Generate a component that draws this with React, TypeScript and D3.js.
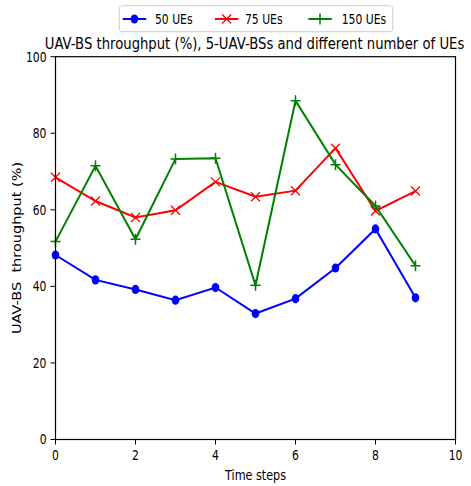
import React from "react";
import * as d3 from "d3";

const timeSteps = [0, 1, 2, 3, 4, 5, 6, 7, 8, 9];
const ue50 = [48.2, 41.7, 39.2, 36.4, 39.7, 32.9, 36.8, 44.8, 55.0, 37.0];
const ue75 = [68.5, 62.3, 58.0, 59.9, 67.3, 63.4, 65.0, 76.1, 59.7, 64.9];
const ue150 = [51.7, 71.5, 52.3, 73.3, 73.5, 40.3, 88.5, 71.8, 61.0, 45.4];
const xTicks = [0, 2, 4, 6, 8, 10];
const yTicks = [0, 20, 40, 60, 80, 100];
const seriesNames = ["50 UEs", "75 UEs", "150 UEs"];
const seriesColors = ["#0000ff", "#ff0000", "#008000"];

const SX = 0.8;
const FONT = "DejaVu Sans, sans-serif";

function SText({ x, y, anchor = "middle", size = 13, sx = SX, children }: any) {
  return (
    <g transform={`translate(${x},${y}) scale(${sx},1)`}>
      <text x={0} y={0} textAnchor={anchor} fontSize={size} fontFamily={FONT} fill="#000">
        {children}
      </text>
    </g>
  );
}

function Marker({ kind, x, y, color }: any) {
  if (kind === 0) return <ellipse cx={x} cy={y} rx={3.8} ry={4.6} fill={color} />;
  if (kind === 1)
    return (
      <path
        d={`M${x - 4.5},${y - 4.5}L${x + 4.5},${y + 4.5}M${x - 4.5},${y + 4.5}L${x + 4.5},${y - 4.5}`}
        stroke={color}
        strokeWidth={1.3}
        fill="none"
      />
    );
  return (
    <path
      d={`M${x - 5},${y}L${x + 5},${y}M${x},${y - 5.5}L${x},${y + 5.5}`}
      stroke={color}
      strokeWidth={1.5}
      fill="none"
    />
  );
}

export default function App() {
  const W = 471, H = 486;
  const x = d3.scaleLinear().domain([0, 10]).range([55.5, 455.5]);
  const y = d3.scaleLinear().domain([0, 100]).range([439.5, 56.7]);
  const all = [ue50, ue75, ue150];
  const line = d3
    .line<number>()
    .x((_, i) => x(timeSteps[i]))
    .y((d) => y(d));

  const legendItems = [
    { lx: 122.7, tx: 155 },
    { lx: 215, tx: 245 },
    { lx: 308.3, tx: 341.7 },
  ];

  return (
    <svg width={W} height={H} style={{ position: "absolute", left: 0, top: 0 }}>
      <rect width={W} height={H} fill="#fff" />
      {all.map((s, k) => (
        <g key={k}>
          <path d={line(s) || ""} fill="none" stroke={seriesColors[k]} strokeWidth={2} />
          {s.map((v, i) => (
            <Marker key={i} kind={k} x={x(timeSteps[i])} y={y(v)} color={seriesColors[k]} />
          ))}
        </g>
      ))}
      <rect
        x={x(0)}
        y={y(100)}
        width={x(10) - x(0)}
        height={y(0) - y(100)}
        fill="none"
        stroke="#000"
        strokeWidth={1.2}
      />
      {xTicks.map((t) => (
        <g key={t}>
          <line x1={x(t)} x2={x(t)} y1={y(0)} y2={y(0) + 5} stroke="#000" strokeWidth={1} />
          <SText x={x(t)} y={460} size={13.5}>{String(t)}</SText>
        </g>
      ))}
      {yTicks.map((t) => (
        <g key={t}>
          <line x1={x(0) - 5} x2={x(0)} y1={y(t)} y2={y(t)} stroke="#000" strokeWidth={1} />
          <SText x={46.5} y={y(t) + 4.8} anchor="end" size={13.5}>{String(t)}</SText>
        </g>
      ))}
      <SText x={255.5} y={480} size={14}>Time steps</SText>
      <g transform={`translate(21,248) rotate(-90) scale(1,${SX})`}>
        <text x={0} y={0} textAnchor="middle" fontSize={14.5} fontFamily={FONT} fill="#000" style={{ whiteSpace: "pre" }}>
          {"UAV-BS  throughput (%)"}
        </text>
      </g>
      <SText x={254.5} y={49} size={16.5}>UAV-BS throughput (%), 5-UAV-BSs and different number of UEs</SText>
      <rect x={119.3} y={5.7} width={273.4} height={26} rx={3} fill="#fff" stroke="#cccccc" strokeWidth={1} />
      {seriesNames.map((n, k) => (
        <g key={n}>
          <line
            x1={legendItems[k].lx}
            x2={legendItems[k].lx + 23.5}
            y1={19}
            y2={19}
            stroke={seriesColors[k]}
            strokeWidth={2}
          />
          <Marker kind={k} x={legendItems[k].lx + 11.7} y={19} color={seriesColors[k]} />
          <SText x={legendItems[k].tx} y={24} anchor="start" size={13.5}>{n}</SText>
        </g>
      ))}
    </svg>
  );
}
